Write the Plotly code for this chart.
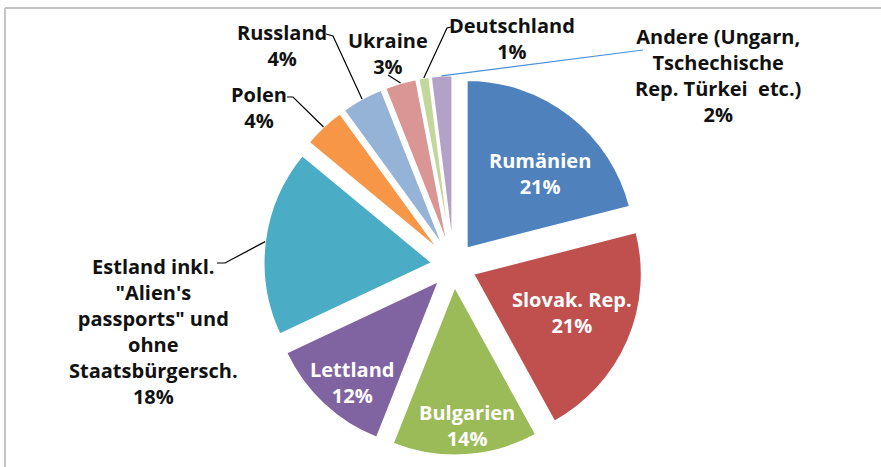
import math
import plotly.graph_objects as go

# ---------------- data ----------------
categories = ["Rumänien", "Slovak. Rep.", "Bulgarien", "Lettland", "Estland",
              "Polen", "Russland", "Ukraine", "Deutschland", "Andere"]
label_texts = ["Rumänien", "Slovak. Rep.", "Bulgarien", "Lettland",
               "Estland inkl.<br>\"Alien's<br>passports\" und<br>ohne<br>Staatsbürgersch.",
               "Polen", "Russland", "Ukraine", "Deutschland",
               "Andere (Ungarn,<br>Tschechische<br>Rep. Türkei  etc.)"]
values = [21, 21, 14, 12, 18, 4, 4, 3, 1, 2]
colors = ["#4F81BD", "#C0504D", "#9BBB59", "#8064A2", "#4BACC6",
          "#F79646", "#95B3D7", "#D99694", "#C3D69B", "#B3A2C7"]

# ---------------- layout geometry ----------------
W, H = 881, 467
CX, CY = 453.5, 265.4      # pie centre in pixels
R = 168                    # pie radius in pixels
PULL = 0.13
BOX = 2 * R * (1 + PULL)

def px(x):
    return x / W

def py(y):
    return 1 - y / H

fig = go.Figure(go.Pie(
    labels=categories, values=values, sort=False, direction="clockwise",
    rotation=0, pull=[PULL] * len(values),
    marker=dict(colors=colors, line=dict(color="white", width=1.5)),
    textinfo="none", hoverinfo="label+percent", showlegend=False,
    domain=dict(x=[(CX - BOX / 2) / W, (CX + BOX / 2) / W],
                y=[(H - CY - BOX / 2) / H, (H - CY + BOX / 2) / H]),
))

# slice anchor points (outer arc at mid-angle), derived from the data
total = sum(values)
anchors = []
cum = 0
for v in values:
    mid = (cum + v / 2) / total * 2 * math.pi
    cum += v
    rr = R * (1 + PULL)
    anchors.append((CX + rr * math.sin(mid), CY - rr * math.cos(mid)))

def pct(i):
    return f"{round(values[i] / total * 100)}%"

# label placement (pixel centre, colour)
label_pos = {
    0: (540, 173, "white"),
    1: (572, 312, "white"),
    2: (467, 425, "white"),
    3: (352, 382, "white"),
    4: (153, 331, "#111111"),
    5: (259, 108, "#111111"),
    6: (282, 45, "#111111"),
    7: (388, 54, "#111111"),
    8: (512, 39, "#111111"),
    9: (718, 75, "#111111"),
}

annotations = []
for i, (x, y, c) in label_pos.items():
    annotations.append(dict(
        x=px(x), y=py(y), xref="paper", yref="paper",
        text=f"<b>{label_texts[i]}<br>{pct(i)}</b>", showarrow=False,
        xanchor="center", yanchor="middle", align="center",
        font=dict(family="Open Sans", size=20, color=c),
    ))

# leader lines: label-side points, ending at the slice anchors
leaders = {
    4: ([(217, 263), (225, 263)], "black"),
    5: ([(287, 97), (293, 97)], "black"),
    6: ([(326, 34), (333, 36)], "black"),
    7: ([(388, 75)], "black"),
    8: ([(451, 27), (447, 28)], "black"),
    9: ([(643, 50)], "#4A90D9"),
}
shapes = []
for i, (pts, col) in leaders.items():
    allpts = pts + [anchors[i]]
    path = "M " + " L ".join(f"{px(a):.5f},{py(b):.5f}" for a, b in allpts)
    shapes.append(dict(type="path", path=path, xref="paper", yref="paper",
                       line=dict(color=col, width=1.2)))

# chart-area frame (top and left edges)
shapes.append(dict(type="line", xref="paper", yref="paper",
                   x0=px(5), x1=1, y0=py(8), y1=py(8),
                   line=dict(color="#C4C4C4", width=2)))
shapes.append(dict(type="line", xref="paper", yref="paper",
                   x0=px(5), x1=px(5), y0=py(8), y1=0,
                   line=dict(color="#C4C4C4", width=2)))

fig.update_layout(
    width=W, height=H, margin=dict(l=0, r=0, t=0, b=0),
    paper_bgcolor="white", plot_bgcolor="white",
    annotations=annotations, shapes=shapes,
)

fig.write_html("out.html", config={"displayModeBar": False},
               post_script="document.body.style.margin='0';"
                           "document.body.style.overflow='hidden';")
